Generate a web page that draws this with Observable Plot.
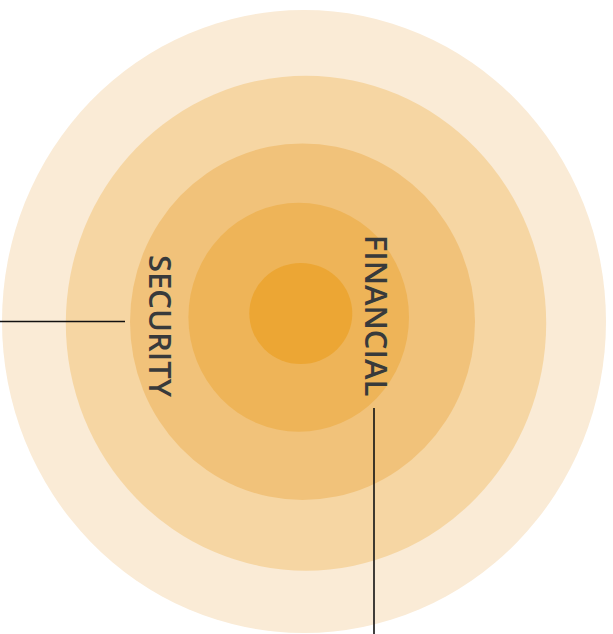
<!DOCTYPE html>
<html><head><meta charset="utf-8">
<script src="https://cdn.jsdelivr.net/npm/d3@7"></script>
<script src="https://cdn.jsdelivr.net/npm/@observablehq/plot@0.6"></script>
<style>html,body{margin:0;padding:0;background:#fff}</style>
</head><body><div id="chart"></div>
<script>
// Concentric rings, outermost first (centre and half-axes in chart units)
const ringCx = [304, 306, 302.5, 298.7, 300.8];
const ringCy = [321.5, 323.2, 321.7, 317.2, 313.5];
const ringRx = [302, 240.2, 172.5, 110.3, 51.5];
const ringRy = [311.5, 247.5, 178.3, 114.5, 50.5];
const ringColors = ["#FAEBD6", "#F6D6A3", "#F1C27A", "#EEB458", "#ECA634"];

// Labels
const labelText = ["SECURITY", "FINANCIAL"];
const labelX = [158.5, 374.5];
const labelY = [325.5, 315];

// Leader lines
const hLeaderY = [321];
const hLeaderX1 = [0];
const hLeaderX2 = [125];
const vLeaderX = [373.5];
const vLeaderY1 = [408];
const vLeaderY2 = [634];

const rings = ringCx.map((cx, i) => ({
  x1: cx - ringRx[i], x2: cx + ringRx[i],
  y1: ringCy[i] - ringRy[i], y2: ringCy[i] + ringRy[i],
  color: ringColors[i]
}));
const labels = labelText.map((t, i) => ({text: t, x: labelX[i], y: labelY[i]}));
const hLeaders = hLeaderY.map((y, i) => ({y, x1: hLeaderX1[i], x2: hLeaderX2[i]}));
const vLeaders = vLeaderX.map((x, i) => ({x, y1: vLeaderY1[i], y2: vLeaderY2[i]}));

const chart = Plot.plot({
  width: 613,
  height: 634,
  margin: 0,
  x: {domain: [0, 613], range: [0, 613], axis: null},
  y: {domain: [0, 634], range: [0, 634], axis: null},
  color: {type: "identity"},
  marks: [
    Plot.rect(rings, {x1: "x1", x2: "x2", y1: "y1", y2: "y2", fill: "color", rx: 1000, ry: 1000, inset: 0}),
    Plot.ruleY(hLeaders, {y: "y", x1: "x1", x2: "x2", stroke: "#111", strokeWidth: 1.6}),
    Plot.ruleX(vLeaders, {x: "x", y1: "y1", y2: "y2", stroke: "#111", strokeWidth: 1.6}),
    Plot.text(labels, {x: "x", y: "y", text: "text", rotate: 90, fontSize: 31, fontFamily: "Open Sans", fontWeight: 600, fill: "#383a3b"})
  ]
});
document.getElementById("chart").appendChild(chart);
</script>
</body></html>
